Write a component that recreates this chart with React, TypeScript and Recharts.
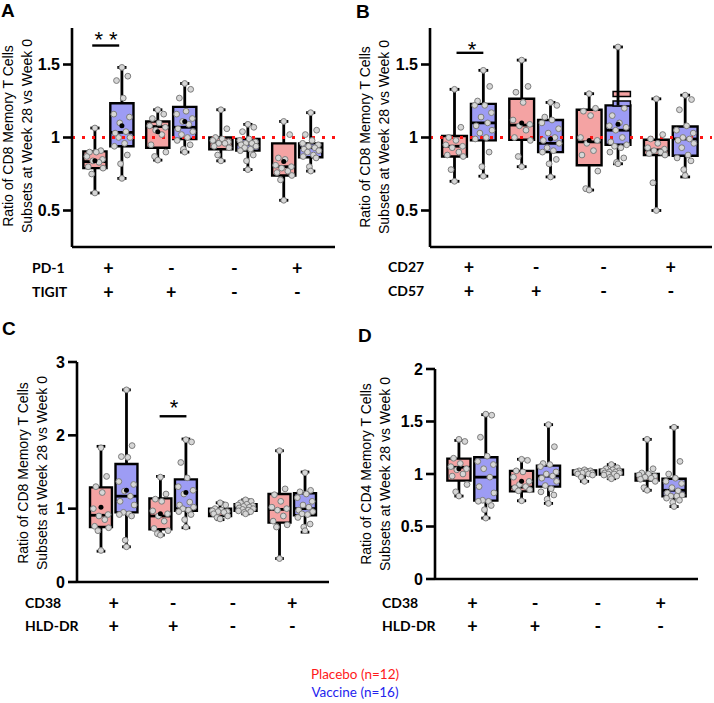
import React from 'react';
import {
  ComposedChart,
  XAxis,
  YAxis,
  Scatter,
  ReferenceArea,
  ReferenceLine,
} from 'recharts';

// x slots of the 8 boxes (placebo / vaccine pairs)
const POSITIONS = [1, 2, 3.33, 4.33, 5.67, 6.67, 8, 9];
const PAIR_CENTERS = [1.5, 3.83, 6.17, 8.5];
// horizontal spread of the dots inside a box
const JITTER = [0, 0.22, -0.2, 0.05, -0.3, 0.28, -0.08, 0.15, -0.25, 0.3, -0.12, 0.1, -0.28, 0.2, -0.05, 0];

const PLACEBO_FILL = '#f4a3a3';
const VACCINE_FILL = '#9d9cf4';

// box stats: [min, q1, median, q3, max, mean]
const A_BOXES = [
  [0.62, 0.79, 0.835, 0.905, 1.065, 0.84],
  [0.72, 0.94, 1.035, 1.235, 1.48, 1.08],
  [0.845, 0.93, 1.075, 1.11, 1.19, 1.04],
  [0.9, 0.99, 1.07, 1.21, 1.37, 1.11],
  [0.84, 0.92, 0.97, 1.0, 1.19, null],
  [0.78, 0.91, 0.955, 0.99, 1.09, null],
  [0.57, 0.74, 0.8, 0.96, 1.11, 0.835],
  [0.77, 0.865, 0.93, 0.96, 1.17, null],
];
const A_POINTS = [
  [1.065, 0.91, 0.9, 0.9, 0.87, 0.85, 0.84, 0.83, 0.8, 0.79, 0.75, 0.62],
  [1.48, 1.42, 1.39, 1.27, 1.16, 1.14, 1.1, 1.04, 1.03, 1.0, 1.0, 0.96, 0.94, 0.88, 0.82, 0.72],
  [1.19, 1.16, 1.13, 1.1, 1.08, 1.07, 1.05, 1.02, 0.95, 0.9, 0.87, 0.845],
  [1.37, 1.33, 1.27, 1.18, 1.16, 1.13, 1.11, 1.09, 1.06, 1.04, 1.02, 1.0, 0.98, 0.95, 0.92, 0.9],
  [1.19, 1.06, 1.0, 0.99, 0.98, 0.97, 0.96, 0.96, 0.94, 0.93, 0.88, 0.84],
  [1.09, 1.07, 1.04, 0.99, 0.98, 0.97, 0.96, 0.96, 0.95, 0.94, 0.93, 0.92, 0.91, 0.88, 0.84, 0.78],
  [1.11, 1.02, 0.86, 0.85, 0.81, 0.8, 0.79, 0.77, 0.76, 0.74, 0.71, 0.57],
  [1.17, 1.05, 1.02, 0.98, 0.96, 0.95, 0.94, 0.93, 0.92, 0.91, 0.9, 0.88, 0.87, 0.86, 0.8, 0.77],
];

const B_BOXES = [
  [0.7, 0.87, 0.94, 1.01, 1.33, null],
  [0.735, 0.98, 1.1, 1.23, 1.46, null],
  [0.8, 0.985, 1.085, 1.265, 1.53, 1.1],
  [0.73, 0.9, 0.96, 1.12, 1.24, 0.99],
  [0.64, 0.81, 0.97, 1.19, 1.3, 0.98],
  [0.82, 0.95, 1.05, 1.22, 1.62, 1.09],
  [0.5, 0.88, 0.915, 0.985, 1.265, null],
  [0.73, 0.875, 0.99, 1.075, 1.29, null],
];
const B_POINTS = [
  [1.33, 1.07, 1.0, 0.98, 0.95, 0.94, 0.93, 0.9, 0.88, 0.87, 0.78, 0.7],
  [1.46, 1.35, 1.25, 1.22, 1.22, 1.17, 1.14, 1.1, 1.08, 1.05, 1.03, 1.0, 0.99, 0.9, 0.8, 0.735],
  [1.53, 1.35, 1.31, 1.24, 1.12, 1.09, 1.08, 1.05, 1.0, 0.98, 0.87, 0.8],
  [1.24, 1.22, 1.14, 1.12, 1.1, 1.06, 1.03, 1.0, 0.98, 0.96, 0.93, 0.91, 0.9, 0.85, 0.82, 0.73],
  [1.3, 1.2, 1.18, 1.15, 1.0, 0.98, 0.96, 0.91, 0.88, 0.77, 0.65, 0.64],
  [1.62, 1.2, 1.15, 1.1, 1.08, 1.07, 1.05, 1.0, 0.97, 0.95, 0.94, 0.93, 0.9, 0.86, 0.83, 0.82],
  [1.265, 1.02, 0.99, 0.96, 0.93, 0.92, 0.91, 0.9, 0.89, 0.88, 0.69, 0.5],
  [1.29, 1.26, 1.19, 1.08, 1.05, 1.03, 1.0, 0.99, 0.98, 0.96, 0.93, 0.88, 0.86, 0.84, 0.78, 0.74],
];
// stray legend swatches sitting over box 6 in panel B: [x1, x2, y1, y2]
const B_SWATCH_PLACEBO = [6.5, 7.1, 1.28, 1.315];
const B_SWATCH_VACCINE = [6.5, 7.1, 1.215, 1.25];

const C_BOXES = [
  [0.42, 0.75, 0.91, 1.29, 1.85, 1.02],
  [0.48, 0.95, 1.17, 1.61, 2.62, 1.25],
  [0.64, 0.72, 0.9, 1.14, 1.44, 0.93],
  [0.74, 0.97, 1.0, 1.4, 1.95, 1.22],
  [0.85, 0.9, 0.96, 1.0, 1.08, null],
  [0.93, 0.97, 1.03, 1.06, 1.12, null],
  [0.32, 0.81, 0.99, 1.2, 1.79, null],
  [0.68, 0.91, 1.0, 1.21, 1.5, null],
];
const C_POINTS = [
  [1.83, 1.44, 1.3, 1.22, 1.0, 0.92, 0.9, 0.85, 0.76, 0.74, 0.7, 0.43],
  [2.62, 1.86, 1.71, 1.7, 1.37, 1.33, 1.24, 1.17, 1.1, 1.05, 0.95, 0.93, 0.92, 0.9, 0.57, 0.48],
  [1.43, 1.2, 1.13, 1.1, 0.97, 0.93, 0.9, 0.83, 0.73, 0.7, 0.66, 0.64],
  [1.94, 1.91, 1.63, 1.42, 1.3, 1.25, 1.2, 1.09, 1.05, 1.02, 1.0, 0.98, 0.96, 0.92, 0.85, 0.75],
  [1.08, 1.05, 1.0, 0.98, 0.97, 0.96, 0.96, 0.95, 0.93, 0.9, 0.88, 0.86],
  [1.12, 1.1, 1.08, 1.06, 1.05, 1.04, 1.03, 1.02, 1.01, 1.0, 0.99, 0.98, 0.97, 0.96, 0.95, 0.93],
  [1.79, 1.27, 1.19, 1.1, 1.02, 1.0, 0.98, 0.9, 0.83, 0.78, 0.75, 0.32],
  [1.49, 1.25, 1.23, 1.2, 1.15, 1.1, 1.05, 1.02, 0.98, 0.96, 0.93, 0.92, 0.88, 0.79, 0.75, 0.7],
];

const D_BOXES = [
  [0.79, 0.937, 1.064, 1.146, 1.32, 1.05],
  [0.58, 0.746, 0.97, 1.16, 1.565, null],
  [0.745, 0.835, 0.875, 1.03, 1.14, 0.93],
  [0.72, 0.88, 0.98, 1.08, 1.47, null],
  [0.93, 0.995, 1.01, 1.035, 1.04, null],
  [0.955, 0.995, 1.02, 1.04, 1.09, null],
  [0.845, 0.937, 0.98, 1.0, 1.33, null],
  [0.69, 0.787, 0.845, 0.955, 1.445, null],
];
const D_POINTS = [
  [1.33, 1.31, 1.15, 1.1, 1.07, 1.05, 1.04, 1.0, 0.98, 0.9, 0.83, 0.79],
  [1.57, 1.56, 1.35, 1.17, 1.12, 1.09, 1.05, 0.97, 0.88, 0.82, 0.75, 0.74, 0.74, 0.7, 0.66, 0.58],
  [1.14, 1.13, 1.03, 1.02, 0.97, 0.93, 0.9, 0.88, 0.87, 0.85, 0.84, 0.745],
  [1.47, 1.26, 1.1, 1.09, 1.07, 1.02, 1.0, 0.98, 0.96, 0.93, 0.89, 0.86, 0.83, 0.8, 0.76, 0.72],
  [1.04, 1.03, 1.03, 1.02, 1.02, 1.01, 1.01, 1.0, 1.0, 0.99, 0.97, 0.93],
  [1.09, 1.06, 1.05, 1.04, 1.03, 1.03, 1.02, 1.02, 1.01, 1.01, 1.0, 1.0, 0.99, 0.98, 0.97, 0.955],
  [1.33, 1.05, 1.01, 1.0, 0.99, 0.98, 0.97, 0.96, 0.95, 0.93, 0.87, 0.845],
  [1.445, 1.12, 1.0, 0.96, 0.93, 0.91, 0.87, 0.84, 0.82, 0.8, 0.79, 0.79, 0.77, 0.75, 0.73, 0.69],
];

const A_ROWS = ['PD-1', 'TIGIT'];
const B_ROWS = ['CD27', 'CD57'];
const C_ROWS = ['CD38', 'HLD-DR'];
const D_ROWS = ['CD38', 'HLD-DR'];
const ROW1_SIGNS = ['+', '-', '-', '+'];
const ROW2_SIGNS = ['+', '+', '-', '-'];

const ARIAL = '"Liberation Sans", Arial, sans-serif';
const CALIBRI = 'Lato, "Open Sans", sans-serif';

const dotShape = (p: any) => (
  <circle cx={p.cx} cy={p.cy} r={2.9} fill="#d6d6d6" stroke="#7c7c7c" strokeWidth={1} />
);
const meanShape = (p: any) => <circle cx={p.cx} cy={p.cy} r={2.5} fill="#000" />;

function Txt({ x, y, children, size, weight = 400, color = '#000', center = false, family = ARIAL }: any) {
  return (
    <div
      style={{
        position: 'absolute',
        left: x,
        top: y,
        transform: center ? 'translate(-50%, -50%)' : 'translate(0, -50%)',
        fontSize: size,
        fontWeight: weight,
        color,
        fontFamily: family,
        whiteSpace: 'nowrap',
        lineHeight: 1,
      }}
    >
      {children}
    </div>
  );
}

function BoxPanel({ cfg }: any) {
  const YW = 60;
  const MT = 10;
  const XH = 12;
  const MR = 3;
  const { boxes, points, xDomain, yDomain, yTicks, left, top, plotW, plotH } = cfg;
  const dots = points.flatMap((arr: number[], i: number) =>
    arr.map((v, j) => ({ x: POSITIONS[i] + (j === arr.length - 1 ? 0 : JITTER[j]), y: v }))
  );
  const means = boxes
    .map((b: any[], i: number) => (b[5] != null ? { x: POSITIONS[i], y: b[5] } : null))
    .filter(Boolean);
  const axisStyle = { stroke: '#000', strokeWidth: 2.6 };
  const hw = 0.43;
  const cap = 0.17;

  return (
    <div style={{ position: 'absolute', left: left - YW, top: top - MT }}>
      <ComposedChart
        width={YW + plotW + MR}
        height={MT + plotH + XH}
        margin={{ top: MT, right: MR, bottom: 0, left: 0 }}
      >
        <XAxis
          type="number"
          dataKey="x"
          domain={xDomain}
          ticks={POSITIONS}
          allowDataOverflow
          tick={false}
          tickSize={8}
          tickLine={axisStyle}
          axisLine={axisStyle}
          height={XH}
        />
        <YAxis
          type="number"
          dataKey="y"
          domain={yDomain}
          ticks={yTicks}
          allowDataOverflow
          width={YW}
          tickSize={9}
          tickMargin={3}
          tickLine={axisStyle}
          axisLine={axisStyle}
          tick={{ fill: '#000', fontSize: 16, fontWeight: 700, fontFamily: ARIAL }}
        />
        {boxes.map((b: number[], i: number) => (
          <ReferenceArea
            key={`box${i}`}
            x1={POSITIONS[i] - hw}
            x2={POSITIONS[i] + hw}
            y1={b[1]}
            y2={b[3]}
            fill={i % 2 === 0 ? PLACEBO_FILL : VACCINE_FILL}
            fillOpacity={1}
            stroke="#000"
            strokeWidth={2.4}
          />
        ))}
        {cfg.swatches &&
          cfg.swatches.map((s: number[], k: number) => (
            <ReferenceArea
              key={`sw${k}`}
              x1={s[0]}
              x2={s[1]}
              y1={s[2]}
              y2={s[3]}
              fill={k === 0 ? PLACEBO_FILL : VACCINE_FILL}
              fillOpacity={1}
              stroke="#000"
              strokeWidth={1.5}
            />
          ))}
        {boxes.map((b: number[], i: number) => [
          <ReferenceLine key={`wl${i}`} segment={[{ x: POSITIONS[i], y: b[0] }, { x: POSITIONS[i], y: b[1] }]} stroke="#000" strokeWidth={2.8} />,
          <ReferenceLine key={`wh${i}`} segment={[{ x: POSITIONS[i], y: b[3] }, { x: POSITIONS[i], y: b[4] }]} stroke="#000" strokeWidth={2.8} />,
          <ReferenceLine key={`cl${i}`} segment={[{ x: POSITIONS[i] - cap, y: b[0] }, { x: POSITIONS[i] + cap, y: b[0] }]} stroke="#000" strokeWidth={2.8} />,
          <ReferenceLine key={`ch${i}`} segment={[{ x: POSITIONS[i] - cap, y: b[4] }, { x: POSITIONS[i] + cap, y: b[4] }]} stroke="#000" strokeWidth={2.8} />,
          <ReferenceLine key={`md${i}`} segment={[{ x: POSITIONS[i] - hw, y: b[2] }, { x: POSITIONS[i] + hw, y: b[2] }]} stroke="#000" strokeWidth={2.8} />,
        ])}
        {cfg.dotted && (
          <ReferenceLine y={1} stroke="#ff1414" strokeWidth={3} strokeDasharray="3 7" />
        )}
        {cfg.sig && (
          <ReferenceLine
            segment={[{ x: cfg.sig[0], y: cfg.sig[2] }, { x: cfg.sig[1], y: cfg.sig[2] }]}
            stroke="#000"
            strokeWidth={2.4}
          />
        )}
        <Scatter data={dots} shape={dotShape} isAnimationActive={false} />
        <Scatter data={means} shape={meanShape} isAnimationActive={false} />
      </ComposedChart>
    </div>
  );
}

function PanelText({ cfg }: any) {
  const { xDomain, left, plotW } = cfg;
  const px = (v: number) => left + ((v - xDomain[0]) / (xDomain[1] - xDomain[0])) * plotW;
  return (
    <>
      <Txt x={cfg.letter[1]} y={cfg.letter[2]} size={19} weight={700}>
        {cfg.letter[0]}
      </Txt>
      <div
        style={{
          position: 'absolute',
          left: cfg.ylabel[0],
          top: cfg.ylabel[1],
          transform: 'translate(-50%, -50%) rotate(-90deg)',
          fontFamily: ARIAL,
          fontSize: 14,
          lineHeight: '19px',
          textAlign: 'center',
          whiteSpace: 'nowrap',
          color: '#000',
        }}
      >
        {cfg.ylabelText[0]}
        <br />
        {cfg.ylabelText[1]}
      </div>
      <Txt x={cfg.rowX} y={cfg.rowY[0]} size={14} weight={700} family={CALIBRI}>
        {cfg.rows[0]}
      </Txt>
      <Txt x={cfg.rowX} y={cfg.rowY[1]} size={14} weight={700} family={CALIBRI}>
        {cfg.rows[1]}
      </Txt>
      {PAIR_CENTERS.map((c, k) => (
        <React.Fragment key={k}>
          <Txt x={px(c)} y={cfg.rowY[0]} size={18} weight={700} center family={CALIBRI}>
            {ROW1_SIGNS[k]}
          </Txt>
          <Txt x={px(c)} y={cfg.rowY[1]} size={18} weight={700} center family={CALIBRI}>
            {ROW2_SIGNS[k]}
          </Txt>
        </React.Fragment>
      ))}
      {cfg.star && (
        <Txt x={cfg.star[1]} y={cfg.star[2]} size={22} center>
          {cfg.star[0]}
        </Txt>
      )}
    </>
  );
}

const CD8_LABEL = ['Ratio of CD8 Memory T Cells', 'Subsets at Week 28 vs Week 0'];
const CD4_LABEL = ['Ratio of CD4 Memory T Cells', 'Subsets at Week 28 vs Week 0'];

const PANELS = [
  {
    boxes: A_BOXES, points: A_POINTS, xDomain: [0.15, 9.9], yDomain: [0.25, 1.75], yTicks: [0.5, 1, 1.5],
    left: 72, top: 28, plotW: 263, plotH: 219, dotted: true, sig: [0.9, 1.9, 1.63],
    letter: ['A', 1, 10], ylabel: [18, 136], ylabelText: CD8_LABEL, rows: A_ROWS, rowX: 32, rowY: [268, 292],
    star: ['* *', 106, 40],
  },
  {
    boxes: B_BOXES, points: B_POINTS, xDomain: [0.15, 9.93], yDomain: [0.25, 1.75], yTicks: [0.5, 1, 1.5],
    left: 430, top: 28, plotW: 282, plotH: 219, dotted: true, sig: [1.07, 2.0, 1.58],
    swatches: [B_SWATCH_PLACEBO, B_SWATCH_VACCINE],
    letter: ['B', 356, 11], ylabel: [375, 137], ylabelText: CD8_LABEL, rows: B_ROWS, rowX: 388, rowY: [267, 291],
    star: ['*', 472, 50],
  },
  {
    boxes: C_BOXES, points: C_POINTS, xDomain: [0.06, 9.94], yDomain: [0, 3], yTicks: [0, 1, 2, 3],
    left: 77, top: 362, plotW: 252, plotH: 220, sig: [3.3, 4.35, 2.26],
    letter: ['C', 2, 328], ylabel: [33, 473], ylabelText: CD8_LABEL, rows: C_ROWS, rowX: 25, rowY: [603, 626],
    star: ['*', 174, 408],
  },
  {
    boxes: D_BOXES, points: D_POINTS, xDomain: [0.11, 9.89], yDomain: [0, 2], yTicks: [0, 0.5, 1, 1.5, 2],
    left: 435, top: 369, plotW: 263, plotH: 210,
    letter: ['D', 358, 335], ylabel: [376, 474], ylabelText: CD4_LABEL, rows: D_ROWS, rowX: 382, rowY: [603, 626],
  },
];

export default function App() {
  return (
    <div
      style={{
        position: 'absolute',
        left: 0,
        top: 0,
        width: 714,
        height: 703,
        background: '#fff',
        overflow: 'hidden',
      }}
    >
      {PANELS.map((p, i) => (
        <React.Fragment key={i}>
          <BoxPanel cfg={p} />
          <PanelText cfg={p} />
        </React.Fragment>
      ))}
      <Txt x={355} y={675} size={13.5} color="#ff1a1a" center family={CALIBRI}>
        Placebo (n=12)
      </Txt>
      <Txt x={355} y={693} size={13.5} color="#2424ee" center family={CALIBRI}>
        Vaccine (n=16)
      </Txt>
    </div>
  );
}
